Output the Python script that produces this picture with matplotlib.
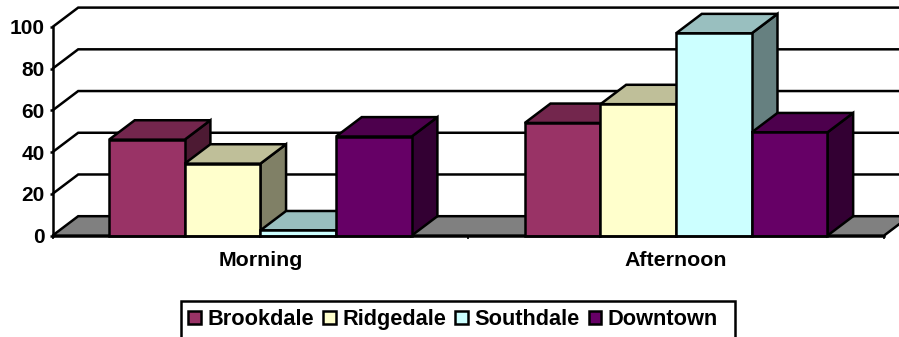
import matplotlib
matplotlib.use("Agg")
import matplotlib.pyplot as plt
from matplotlib.patches import Patch, Rectangle
from matplotlib.colors import to_rgb

categories = ["Morning", "Afternoon"]
series_names = ["Brookdale", "Ridgedale", "Southdale", "Downtown"]
brookdale = [46, 54]
ridgedale = [34.5, 63]
southdale = [2.5, 97]
downtown = [47.5, 49.5]
series_values = [brookdale, ridgedale, southdale, downtown]
colors = ["#993366", "#FFFFCC", "#CCFFFF", "#660066"]
yticks = [0, 20, 40, 60, 80, 100]

W, H = 899, 337
LW = 1.8
BAR_W = 0.182
DX = 0.0618   # depth offset, category units
DY = 9.3      # depth offset, value units

plt.rcParams["font.family"] = ["Liberation Sans", "DejaVu Sans"]
plt.rcParams["font.weight"] = "bold"

fig = plt.figure(figsize=(W / 100, H / 100), dpi=100)
ax = fig.add_axes([52.5 / W, 1 - 235.6 / H, (884 - 52.5) / W, (235.6 - 27) / H])
ax.set_xlim(0, len(categories))
ax.set_ylim(0, 100)
ax.patch.set_visible(False)


def shade(c, k):
    return tuple(v * k for v in to_rgb(c))


# floor
ax.fill([0, 2, 2 + DX, DX], [0, 0, DY, DY], facecolor="#808080", edgecolor="black",
        linewidth=LW, clip_on=False, zorder=1.5, joinstyle="miter")
# back wall gridlines and side wall lines
for t in yticks[1:]:
    ax.plot([0, DX, 2 + DX], [t, t + DY, t + DY], color="black", lw=LW, clip_on=False,
            zorder=1, solid_joinstyle="miter", solid_capstyle="butt")

# bars
z = 2
for c in range(len(categories)):
    for s, vals in enumerate(series_values):
        v = vals[c]
        x0 = c + 0.5 + (s - 2) * BAR_W
        x1 = x0 + BAR_W
        kw = dict(edgecolor="black", linewidth=LW, clip_on=False, joinstyle="miter")
        ax.fill([x1, x1 + DX, x1 + DX, x1], [0, DY, v + DY, v],
                facecolor=shade(colors[s], 0.5), zorder=z, **kw)
        ax.fill([x0, x1, x1 + DX, x0 + DX], [v, v, v + DY, v + DY],
                facecolor=shade(colors[s], 0.75), zorder=z, **kw)
        ax.bar(x0, v, width=BAR_W, align="edge", color=colors[s], zorder=z + 0.5, **kw)
        z += 1

for name in ("top", "right"):
    ax.spines[name].set_visible(False)
for name in ("left", "bottom"):
    ax.spines[name].set_linewidth(LW)
ax.spines["left"].set_zorder(1.8)
ax.spines["bottom"].set_zorder(60)

ax.set_yticks(yticks)
ax.tick_params(axis="y", length=2.5, width=LW, pad=3, labelsize=15)
ax.set_xticks([0, 1, 2])
ax.set_xticklabels([])
ax.tick_params(axis="x", which="major", length=2.5, width=1.2)
ax.set_xticks([0.5, 1.5], minor=True)
ax.set_xticklabels(categories, minor=True)
ax.tick_params(axis="x", which="minor", length=0, pad=11, labelsize=15.4)

fig.add_artist(Rectangle((181 / W, -5 / H), (735 - 181) / W, (H + 5 - 301) / H,
                         transform=fig.transFigure, facecolor="white",
                         edgecolor="black", linewidth=LW, joinstyle="miter"))
handles = [Patch(facecolor=c, edgecolor="black", linewidth=LW) for c in colors]
leg = fig.legend(handles, series_names, ncol=4, loc="upper left",
                 bbox_to_anchor=(188 / W, 1 - 309 / H), bbox_transform=fig.transFigure,
                 borderaxespad=0, borderpad=0, fontsize=15.7, frameon=False,
                 handlelength=0.58, handleheight=0.58,
                 handletextpad=0.3, columnspacing=0.42)
leg.set_zorder(5)

fig.savefig("out.png", dpi=100)
